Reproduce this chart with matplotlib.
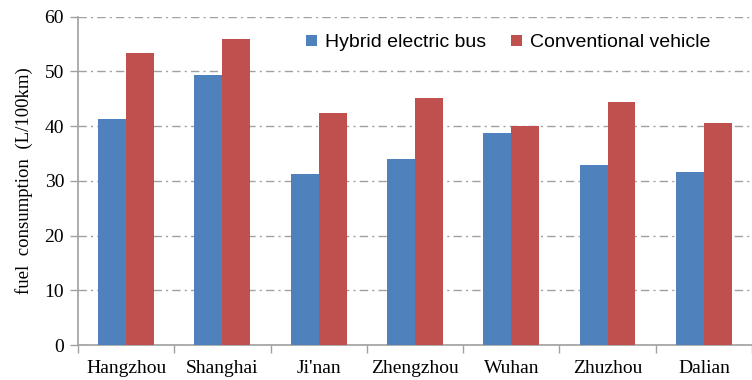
import numpy as np
import matplotlib.pyplot as plt
from matplotlib.ticker import FixedLocator

cities = ['Hangzhou', 'Shanghai', "Ji'nan", 'Zhengzhou', 'Wuhan', 'Zhuzhou', 'Dalian']
hybrid_bus = [41.3, 49.3, 31.3, 34.0, 38.7, 32.9, 31.6]
conventional = [53.3, 56.0, 42.4, 45.2, 40.0, 44.4, 40.5]

blue = '#4F81BD'
red = '#C0504D'
axis_grey = '#A0A0A0'
serif = ['Liberation Serif', 'DejaVu Serif']
sans = ['Liberation Sans', 'DejaVu Sans']

fig = plt.figure(figsize=(7.52, 3.8), dpi=100)
ax = fig.add_axes([0.1037, 0.092, 0.8963, 0.864])

x = np.arange(len(cities))
w = 0.29
ax.bar(x - w / 2, hybrid_bus, width=w, color=blue, label='Hybrid electric bus', zorder=3)
ax.bar(x + w / 2, conventional, width=w, color=red, label='Conventional vehicle', zorder=3)

ax.set_xlim(-0.5, len(cities) - 0.5)
ax.set_ylim(0, 60)
ax.set_yticks(np.arange(0, 61, 10))
ax.set_xticks(x)
ax.set_xticklabels(cities, family=serif, fontsize=14)
ax.xaxis.set_minor_locator(FixedLocator(np.arange(-0.5, len(cities), 1.0)))
ax.tick_params(axis='x', which='major', length=0, pad=11)
ax.tick_params(axis='x', which='minor', length=6, width=1, color=axis_grey)
ax.tick_params(axis='y', length=6, width=1, color=axis_grey, pad=4, labelsize=14)
for lbl in ax.get_yticklabels():
    lbl.set_family(serif)

ax.yaxis.grid(True, linestyle=(0, (6, 3, 1.5, 3)), color=axis_grey, linewidth=1, zorder=0)
for side in ['top', 'right']:
    ax.spines[side].set_visible(False)
for side in ['left', 'bottom']:
    ax.spines[side].set_color(axis_grey)
    ax.spines[side].set_linewidth(1.2)

ax.set_ylabel('fuel  consumption  (L/100km)', family=serif, fontsize=13.5, labelpad=8)

leg = ax.legend(loc='upper left', bbox_to_anchor=(0.327, 0.97), ncol=2, frameon=False,
                prop={'family': sans, 'size': 14}, handlelength=0.55, handleheight=0.55,
                handletextpad=0.4, columnspacing=1.3, borderaxespad=0)

fig.savefig('out.png', dpi=100)
